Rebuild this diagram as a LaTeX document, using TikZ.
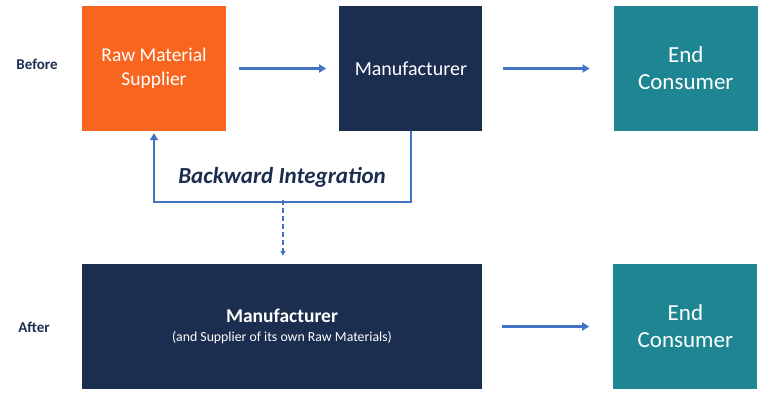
\documentclass[tikz,border=0pt]{standalone}
\usepackage{fontspec}
\setmainfont{Carlito}
\usetikzlibrary{positioning,arrows.meta}

\definecolor{supplierorange}{HTML}{F7651F}
\definecolor{navy}{HTML}{1C2E4F}
\definecolor{teal}{HTML}{1E8593}
\definecolor{flowblue}{HTML}{4472C4}

\tikzset{
  box/.style={rectangle, minimum width=144pt, minimum height=125pt, inner sep=0pt,
    text=white, align=center, font=\fontsize{19.5}{23.5}\selectfont},
  stage/.style={font=\bfseries\fontsize{15}{17}\selectfont, text=navy},
  flow/.style={->, flowblue, line width=2.4pt},
  bracket/.style={->, flowblue, line width=1.5pt}
}

\begin{document}
\begin{tikzpicture}[x=1pt, y=-1pt, >={Triangle[length=7pt,width=8pt]}, node distance=113pt]
  \useasboundingbox (0,0) rectangle (774,400);

  % before
  \node[stage] (before) at (37,64) {Before};
  \node[box, fill=supplierorange] (rms) at (154,68.5) {Raw Material\\Supplier};
  \node[box, fill=navy, minimum width=143pt, font=\fontsize{20}{24}\selectfont] (mfr) [right=113pt of rms] {Manufacturer};
  \node[box, fill=teal, font=\fontsize{23}{27}\selectfont] (ec) [right=131pt of mfr] {End\\Consumer};

  \path[flow] (rms) edge[shorten <=13pt, shorten >=13pt] (mfr);
  \path[flow] (mfr) edge[shorten <=20pt, shorten >=24pt] (ec);

  % backward integration loop
  \node[font=\bfseries\itshape\fontsize{23}{27}\selectfont, text=navy] (bi) at (282,177) {Backward Integration};
  \draw[bracket, shorten >=2pt] (mfr.south) -- ++(0,71) -| (rms.south);
  \coordinate (loop) at (283,200);

  % after
  \node[stage] (after) at (34,327) {After};
  \node[box, fill=navy, minimum width=400pt] (mfr2) at (282,326.5)
    {\textbf{Manufacturer}\\[-4pt]{\fontsize{13.8}{16}\selectfont(and Supplier of its own Raw Materials)}};
  \node[box, fill=teal, font=\fontsize{23}{27}\selectfont] (ec2) [right=131pt of mfr2] {End\\Consumer};

  \draw[->, flowblue, line width=1.3pt, dash pattern=on 5pt off 3pt, shorten >=8pt,
    >={Triangle[length=5pt,width=5pt]}] (loop) -- (loop |- mfr2.north);
  \path[flow] (mfr2) edge[shorten <=20pt, shorten >=24pt] (ec2);
\end{tikzpicture}
\end{document}
